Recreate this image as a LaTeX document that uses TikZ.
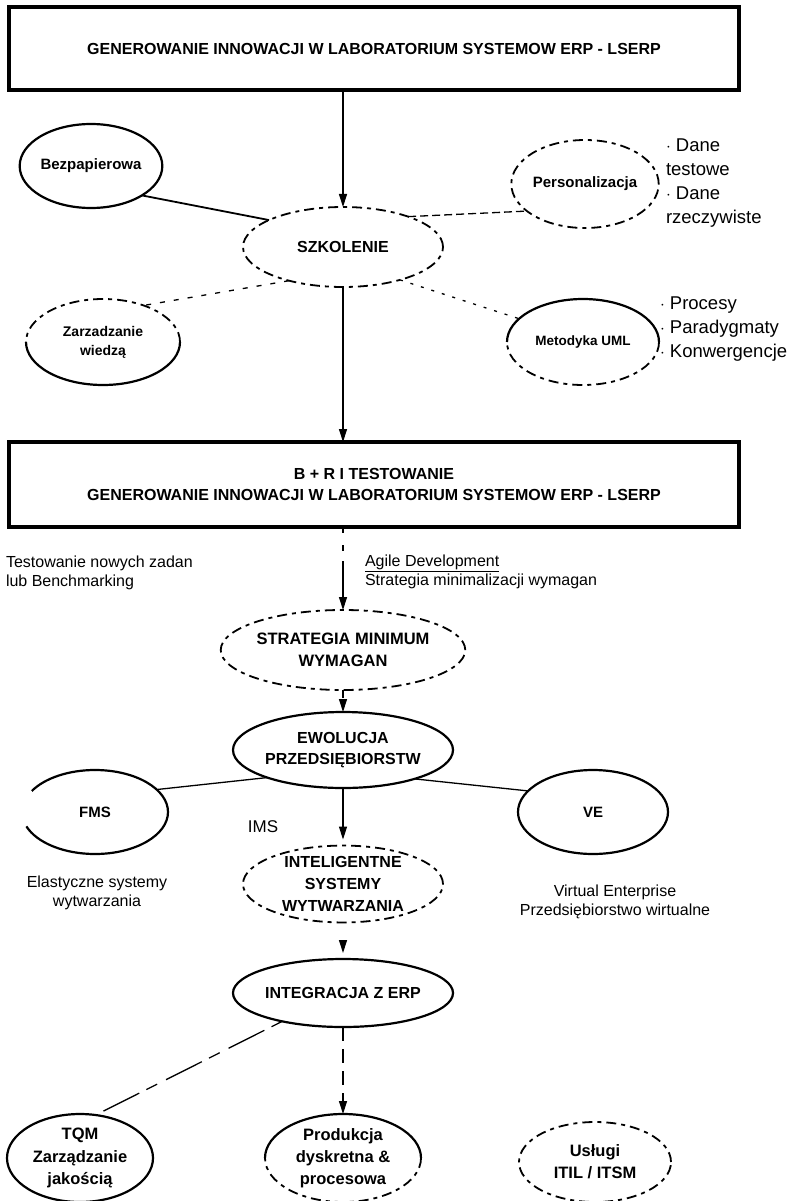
\documentclass[tikz,border=0pt]{standalone}
\usepackage{fontspec}
\setmainfont{Liberation Sans}
\usetikzlibrary{shapes.geometric,arrows.meta}

\newcommand\boxfont{\fontsize{16}{21}\selectfont\bfseries}
\newcommand\ovalfont{\fontsize{15}{21}\selectfont\bfseries}
\newcommand\listfont{\fontsize{18.5}{24}\selectfont}
\newcommand\notefont{\fontsize{16}{19.5}\selectfont}
\newcommand\ovalsize[1]{\fontsize{#1}{1.35\dimexpr #1pt\relax}\selectfont\bfseries}

\begin{document}
\begin{tikzpicture}[x=1pt,y=-1pt,
  every node/.style={inner sep=0pt,outer sep=0pt},
  oval/.style={ellipse,align=center,font=\ovalfont},
  rim/.style={line width=2.2pt},
  rimdash/.style={line width=1.8pt,dash pattern=on 10pt off 5pt on 4pt off 5pt},
  frame/.style={draw,line width=3.5pt,align=center,font=\boxfont},
  link/.style={line width=1.3pt},
  arr/.style={line width=1.2pt,-{Triangle[length=13pt,width=8pt]}},
  side/.style={align=left,font=\listfont},
  note/.style={align=left,font=\notefont},
]
\fill[white] (0,0) rectangle (807,1201);
\useasboundingbox (0,0) rectangle (807,1201);

% --- frames ---
\node[frame,minimum width=730pt,minimum height=83pt] (top) at (374,48.5)
  {GENEROWANIE INNOWACJI W LABORATORIUM SYSTEMOW ERP - LSERP};
\node[frame,minimum width=730pt,minimum height=85pt] (box2) at (374,484.5)
  {B + R I TESTOWANIE\\GENEROWANIE INNOWACJI W LABORATORIUM SYSTEMOW ERP - LSERP};

% --- training cluster ---
\node[oval,draw,rim,minimum width=134pt,minimum height=84pt] (bez) at (91,166) {Bezpapierowa};
\node[oval,draw,rimdash,minimum width=142pt,minimum height=88pt] (pers) at (585,184) {Personalizacja};
\node[oval,draw,rimdash,minimum width=200pt,minimum height=80pt,font=\ovalsize{16}] (szk) at (343,247) {SZKOLENIE};
\node[oval,minimum width=154pt,minimum height=86pt,font=\ovalsize{14}] (zar) at (103,342) {Zarzadzanie\\wiedzą};
\draw[rimdash] (zar.east) arc[start angle=0,end angle=180,x radius=77pt,y radius=43pt];
\draw[rim] (zar.east) arc[start angle=0,end angle=-180,x radius=77pt,y radius=43pt];
\node[oval,minimum width=152pt,minimum height=86pt,font=\ovalsize{13.5}] (met) at (583,342) {Metodyka UML};
\draw[rim] (met.east) arc[start angle=0,end angle=180,x radius=76pt,y radius=43pt];
\draw[rimdash] (met.east) arc[start angle=0,end angle=-180,x radius=76pt,y radius=43pt];

\node[side,anchor=north west] (dane) at (666,139) {$\cdot$ Dane\\testowe\\$\cdot$ Dane\\rzeczywiste};
\node[side,anchor=north west] (proc) at (660,297) {$\cdot$ Procesy\\$\cdot$ Paradygmaty\\$\cdot$ Konwergencje};

% --- development cluster ---
\node[note,anchor=west] (test) at (6,573) {Testowanie nowych zadan\\lub Benchmarking};
\node[note,anchor=west] (agile) at (365,572) {\underline{Agile Development}\\Strategia minimalizacji wymagan};
\node[oval,draw,rimdash,minimum width=208pt,minimum height=80pt,font=\ovalsize{16.5}] (strat) at (343,650) {STRATEGIA MINIMUM\\WYMAGAN};
\node[oval,draw,rim,minimum width=206pt,minimum height=76pt,font=\ovalsize{16}] (ewo) at (343,750) {EWOLUCJA\\PRZEDSIĘBIORSTW};
\node[oval,minimum width=146pt,minimum height=84pt] (fms) at (95,812) {FMS};
\draw[rim] (fms.north) arc[start angle=90,end angle=-90,x radius=73pt,y radius=42pt]
  arc[start angle=-90,end angle=-160,x radius=73pt,y radius=42pt];
\draw[rim] (fms.north) arc[start angle=90,end angle=150,x radius=73pt,y radius=42pt];
\node[oval,draw,rim,minimum width=150pt,minimum height=84pt] (ve) at (593,812) {VE};
\node[font=\fontsize{17}{19}\selectfont] (ims) at (263,827) {IMS};
\node[oval,draw,rimdash,minimum width=200pt,minimum height=74pt,font=\ovalsize{16}] (intel) at (343,884) {INTELIGENTNE\\SYSTEMY\\WYTWARZANIA};
\node[note,align=center] (elas) at (97,893) {Elastyczne systemy\\wytwarzania};
\node[note,align=center] (virt) at (615,902) {Virtual Enterprise\\Przedsiębiorstwo wirtualne};

% --- integration cluster ---
\node[oval,draw,rim,minimum width=200pt,minimum height=68pt,font=\ovalsize{16}] (integ) at (343,993) {INTEGRACJA Z ERP};
\node[oval,draw,rim,minimum width=146pt,minimum height=88pt,font=\ovalsize{16.5}] (tqm) at (80,1158) {TQM\\Zarządzanie\\jakością};
\node[oval,minimum width=156pt,minimum height=88pt,font=\ovalsize{16.5}] (prod) at (343,1158) {Produkcja\\dyskretna \&\\procesowa};
\draw[rim] (prod.east) arc[start angle=0,end angle=180,x radius=78pt,y radius=44pt];
\draw[rimdash] (prod.east) arc[start angle=0,end angle=-180,x radius=78pt,y radius=44pt];
\node[oval,draw,rimdash,minimum width=152pt,minimum height=80pt,font=\ovalsize{16.5}] (usl) at (595,1162) {Usługi\\ITIL / ITSM};

% --- connectors ---
\draw[arr] (szk.north |- top.south) -- (szk.north);
\draw[link,line width=1.8pt] (bez.-30) -- (szk.160);
\draw[link,dash pattern=on 8pt off 4pt] (szk.25) -- (pers.205);
\draw[link,dash pattern=on 5pt off 9pt] (szk.212) -- (zar.42);
\draw[link,dash pattern=on 3pt off 8pt] (szk.-30) -- (met.160);
\draw[arr] (szk.south) -- (szk.south |- box2.north);
\draw[arr,dash pattern=on 6pt off 12pt on 6pt off 10pt on 60pt] (strat.north |- box2.south) -- (strat.north);
\draw[arr,dash pattern=on 8pt off 5pt] (strat.south) -- (ewo.north);
\draw[link] (ewo.200) -- (fms.20);
\draw[link] (ewo.-22) -- (ve.162);
\draw[arr,shorten >=6pt] (ewo.south) -- (intel.north);
\draw[arr,shorten <=18pt,shorten >=6pt] (intel.south) -- (integ.north);
\draw[link,dash pattern=on 12pt off 8pt on 40pt off 10pt] (integ.205) -- (tqm.70);
\draw[arr,dash pattern=on 14pt off 8pt] (integ.south) -- (prod.north);
\end{tikzpicture}
\end{document}
